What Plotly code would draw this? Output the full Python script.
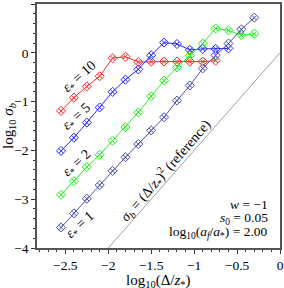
import plotly.graph_objects as go

# x positions (log10(Delta/z*))
x_eps10 = [-2.55, -2.40, -2.25, -2.10, -1.95, -1.80, -1.65, -1.50, -1.35, -1.20, -1.05, -0.90, -0.75]
y_eps10 = [-1.19, -0.92, -0.69, -0.48, -0.11, -0.08, -0.19, -0.18, -0.18, -0.18, -0.18, -0.18, -0.16]

x_eps5 = [-2.55, -2.40, -2.25, -2.10, -1.95, -1.80, -1.65, -1.50, -1.35, -1.20, -1.05, -0.90, -0.75, -0.60]
y_eps5 = [-2.01, -1.74, -1.43, -1.12, -0.80, -0.55, -0.34, -0.05, 0.21, 0.18, 0.06, 0.08, 0.08, 0.09]

x_eps2 = [-2.55, -2.40, -2.25, -2.10, -1.95, -1.80, -1.65, -1.50, -1.35, -1.20, -1.05, -0.90, -0.75, -0.60, -0.45, -0.30]
y_eps2 = [-2.91, -2.63, -2.34, -2.09, -1.80, -1.52, -1.22, -0.89, -0.57, -0.30, -0.06, 0.19, 0.50, 0.46, 0.36, 0.39]

x_eps1 = [-2.55, -2.40, -2.25, -2.10, -1.95, -1.80, -1.65, -1.50, -1.35, -1.20, -1.05, -0.90, -0.75, -0.60, -0.45, -0.30]
y_eps1 = [-3.58, -3.29, -2.99, -2.71, -2.42, -2.14, -1.87, -1.59, -1.32, -0.98, -0.67, -0.32, -0.05, 0.19, 0.48, 0.72]

x_ref = [-2.0, 0.0]
y_ref = [2 * v for v in x_ref]

series = [
    (x_eps10, y_eps10, "#ff2a2a"),
    (x_eps5, y_eps5, "#2a2aff"),
    (x_eps2, y_eps2, "#22ee22"),
    (x_eps1, y_eps1, "#5050b4"),
]

FONT = "Liberation Serif"

fig = go.Figure()
fig.add_trace(go.Scatter(x=x_ref, y=y_ref, mode="lines",
                         line=dict(color="#a0a0a0", width=1), showlegend=False))
for xs, ys, c in series:
    fig.add_trace(go.Scatter(x=xs, y=ys, mode="lines+markers",
                             line=dict(color=c, width=1),
                             marker=dict(symbol="diamond-x-open", size=7, color=c,
                                         line=dict(color=c, width=1)),
                             showlegend=False))

ann = []
lab_font = dict(family=FONT, size=14, color="black")
for txt, x, y in [("<i>ε</i><sub>*</sub> = 10", -2.34, -0.50),
                  ("<i>ε</i><sub>*</sub> = 5", -2.37, -1.33),
                  ("<i>ε</i><sub>*</sub> = 2", -2.36, -2.27),
                  ("<i>ε</i><sub>*</sub> = 1", -2.33, -3.53)]:
    ann.append(dict(x=x, y=y, text=txt, showarrow=False, textangle=-42, font=lab_font))
ann.append(dict(x=-1.33, y=-2.41, text="<i>σ</i><sub><i>b</i></sub> = (Δ/<i>z</i><sub>*</sub>)<sup>2</sup> (reference)",
                showarrow=False, textangle=-49, font=lab_font))
small_font = dict(family=FONT, size=13.5, color="black")
for txt, y in [("<i>w</i> = −1", -3.10), ("<i>s</i><sub>0</sub> = 0.05", -3.40),
               ("log<sub>10</sub>(<i>a<sub>f</sub></i>/<i>a</i><sub>*</sub>) = 2.00", -3.69)]:
    ann.append(dict(x=-0.12, y=y, text=txt, showarrow=False, xanchor="right", font=small_font))
# x-axis title
ann.append(dict(x=0.5, y=-0.075, xref="paper", yref="paper", yanchor="top", yshift=-4,
                text="log<sub>10</sub>(Δ/<i>z</i><sub>*</sub>)", showarrow=False,
                font=dict(family=FONT, size=15, color="black")))

axis_common = dict(showgrid=False, zeroline=False, showline=True, linecolor="#555555",
                   linewidth=1.5, mirror=True, ticks="outside", ticklen=4, tickcolor="#333",
                   automargin=False,
                   tickfont=dict(family=FONT, size=13.5, color="black"))

fig.update_layout(
    width=284, height=288,
    margin=dict(l=37, r=4, t=4, b=40),
    plot_bgcolor="white", paper_bgcolor="white",
    annotations=ann,
    xaxis=dict(range=[-2.83, 0], tickvals=[-2.5, -2, -1.5, -1, -0.5, 0],
               ticktext=["−2.5", "−2", "−1.5", "−1", "−0.5", "0"],
               minor=dict(dtick=0.1, ticks="outside", ticklen=2, tickcolor="#333"),
               **axis_common),
    yaxis=dict(range=[-4, 1], tickvals=[-4, -3, -2, -1, 0, 1],
               ticktext=["−4", "−3", "−2", "−1", "0", "1"],
               minor=dict(dtick=0.2, ticks="outside", ticklen=2, tickcolor="#333"),
               title=dict(text="log<sub>10</sub> <i>σ</i><sub><i>b</i></sub>", font=dict(family=FONT, size=15, color="black"), standoff=4),
               **axis_common),
)

fig.write_html("out.html", config={"displayModeBar": False},
               post_script="document.body.style.margin='0';document.body.style.overflow='hidden';")
